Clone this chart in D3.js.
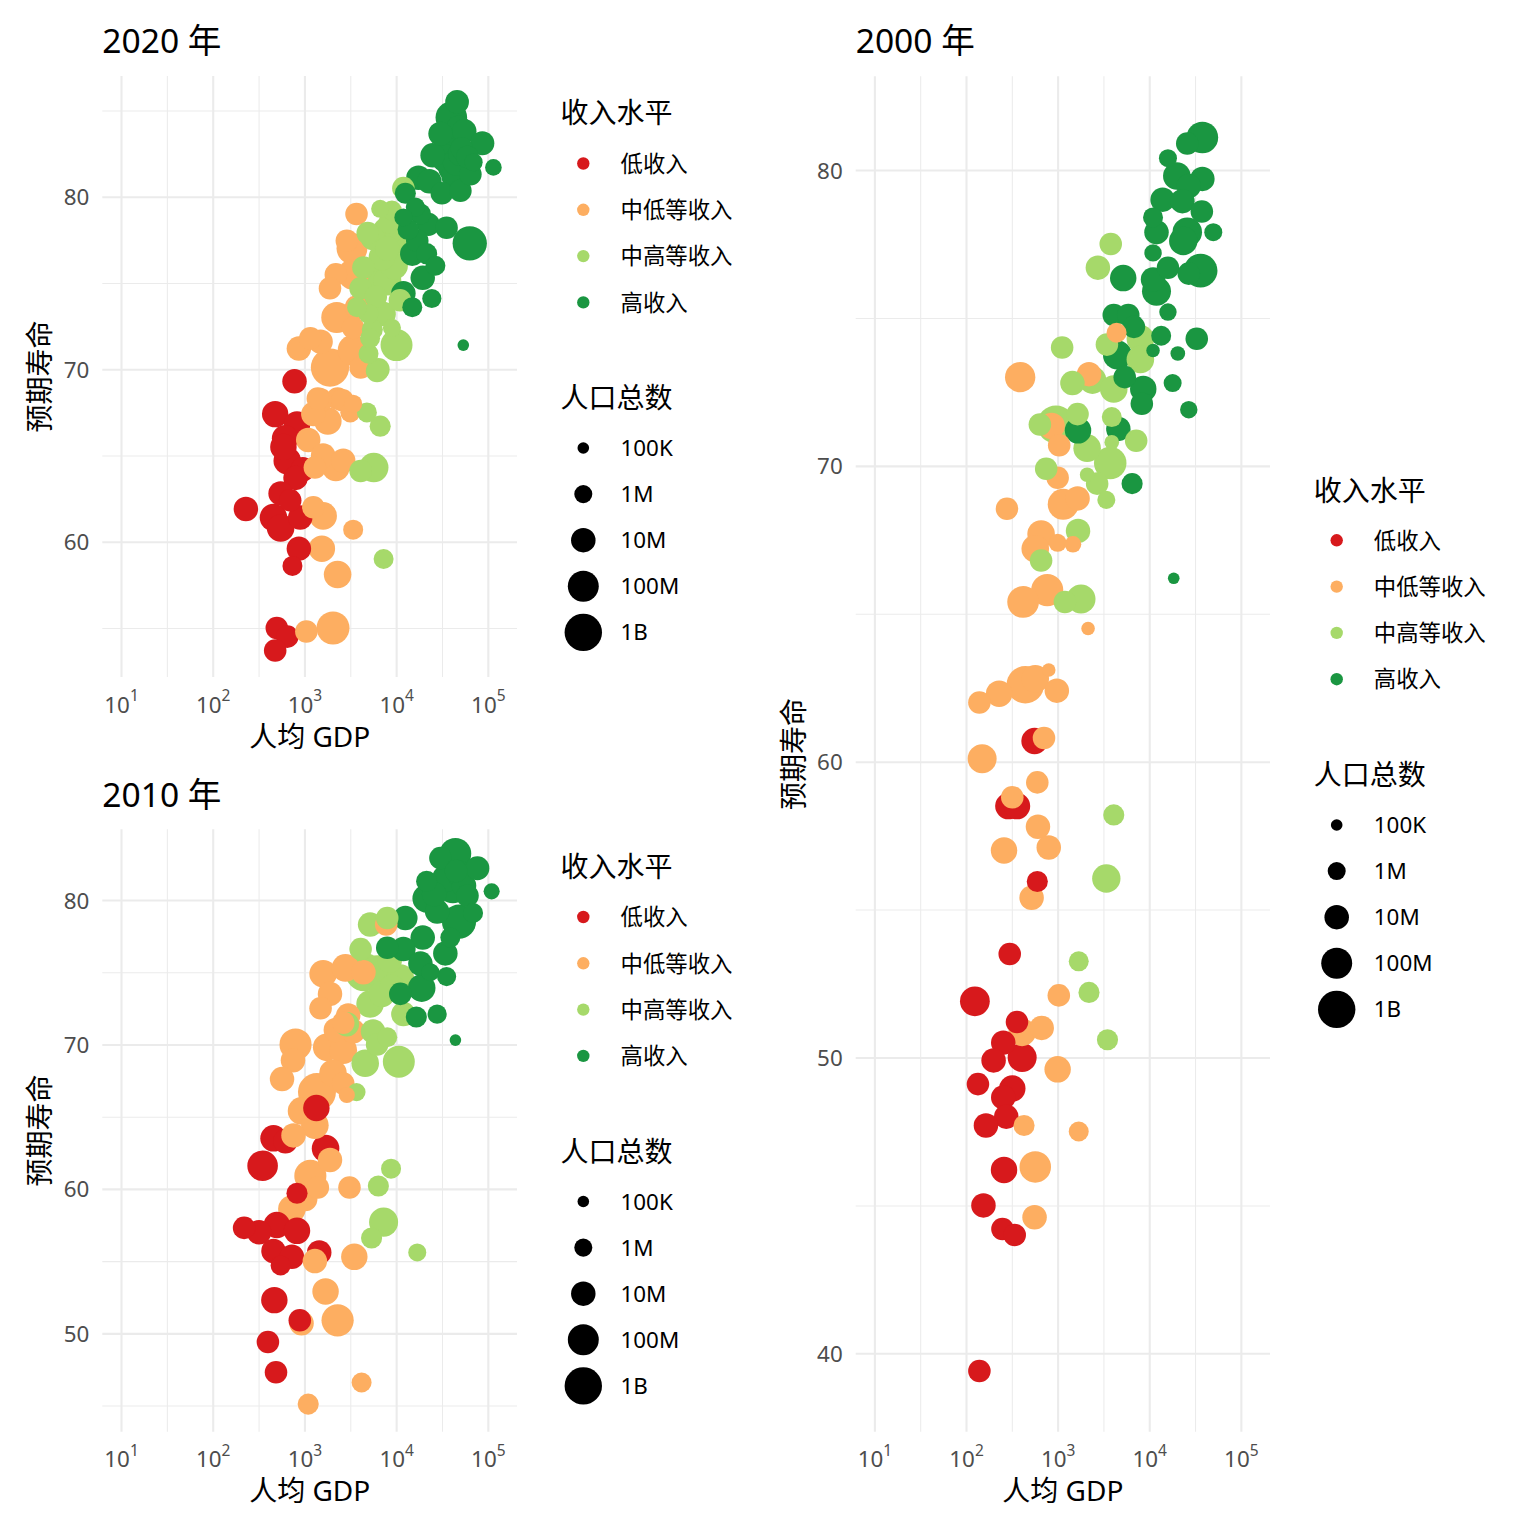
<!DOCTYPE html>
<html>
<head>
<meta charset="utf-8">
<script src="https://cdn.jsdelivr.net/npm/d3@7"></script>
<style>
  body { margin: 0; background: #ffffff; }
  svg { display: block; }
  text { font-family: "Noto Sans", "Noto Sans CJK SC", sans-serif; }
</style>
</head>
<body>
<svg id="chart" width="1536" height="1536"></svg>
<script>
// ---------------- categories / labels ----------------
const incomeLevels = ["低收入", "中低等收入", "中高等收入", "高收入"];
const incomeColors = ["#D7191C", "#FDAE61", "#A6D96A", "#1A9641"];
const popBreaks = [1e5, 1e6, 1e7, 1e8, 1e9];
const popLabels = ["100K", "1M", "10M", "100M", "1B"];
const xTickValues = [10, 100, 1000, 10000, 100000];
const xTickExponents = ["1", "2", "3", "4", "5"];
const panelTitles = ["2020 年", "2010 年", "2000 年"];

// ---------------- 2020 (GDP per capita US$, life expectancy, population in millions) ----------------
const gdpLow2020  = [780,480,830,615,590,650,960,800,550,230,460,550,900,870,740,500,650,480,700];
const lifeLow2020 = [69.3,67.4,66.8,66.0,65.5,64.7,64.2,63.7,62.8,61.9,61.4,60.8,61.4,59.6,58.6,55.0,54.5,53.7,62.4];
const popLow2020  = [10,20,20,20,20,30,10,10,10,10,30,30,10,10,2,5,5,5,5];

const gdpLm2020  = [3700,3300,2900,3400,2200,1900,3750,2250,3400,1160, 870,1500,3400,1900,4100,2300,1400,1490,2600,3400, 3160,1800,1250,1100,1600,2650,2200,1300,1250,1600, 3400,1550,2300,1050,2050];
const lifeLm2020 = [79.0,77.0,77.45,75.5,75.5,74.7,73.6,73.0,72.4,71.8, 71.2,71.6,71.1,70.1,70.1,68.3,68.3,68.2,68.2,68.0, 67.5,67.0,67.4,65.9,65.0,64.7,64.3,64.3,62.0,61.5, 60.7,59.6,58.1,54.8,55.0];
const popLm2020  = [5,100,5,100,5,5,10,100,5,5, 10,10,100,1380,5,5,5,10,5,1, 2,30,10,10,10,10,30,5,5,30, 2,20,30,5,206];

const gdpUm2020  = [12000,7300,5700,4100,4800,6700,6400,5000,5200,5000, 10100,9000,7300,11000,8000,4100,6800,8000,9000,6700, 5600,10400,4400,4900,3750,6200,7000,9500,8000,6000, 8500,5500];
const lifeUm2020 = [80.5,59.0,64.3,64.1,67.5,66.7,70.0,70.9,71.8,73.2, 71.4,72.4,73.2,74.0,75.1,74.7,75.3,78.0,79.2,79.3, 77.6,77.8,75.9,77.9,73.6,69.9,76.5,76.0,77.0,74.2, 78.5,72.3];
const popUm2020  = [5,2,59,5,2,3,5,2,2,2, 144,1,10,5,40,5,212,50,2,1, 10,1400,5,5,2,5,20,30,10,5, 5,3];

const gdpHigh2020  = [46200,40000,55500,87000,115000,30400,25000,17500,31500,50200, 41500,64500,39000,50000,18400,16200,22500,35500,63500,17000, 15000,21500,26800,19500,12000,15000,24500,54000,13500,12000, 45000,35000,52000,60000,23000,44000,48000,70000,12600];
const lifeHigh2020 = [85.5,84.6,83.8,83.1,81.7,83.65,82.4,81.1,80.2,80.35, 81.7,81.3,82.85,82.5,79.0,79.4,78.4,78.2,77.3,77.45, 76.7,76.7,76.0,75.3,74.4,73.6,74.1,71.4,78.1,78.8, 82.0,82.2,82.8,82.3,80.9,81.2,84.0,82.0,80.2];
const popHigh2020  = [7.5,126,9,8.6,0.6,9,10,10,5,5, 60,5,50,10,3,1.5,6,5,331,5, 10,3,2,10,10,2,1.5,0.1,3,1, 20,40,5,5,10,30,10,1,3];

// ---------------- 2010 ----------------
const gdpLow2010  = [1350,460,620,1700,350,830,220,320,500,830, 460,730,550,1450,470,890,400,490];
const lifeLow2010 = [65.6,63.5,63.3,62.8,61.6,59.7,57.3,57.0,57.5,57.1, 55.7,55.3,54.7,55.6,52.3,50.9,49.4,47.3];
const popLow2010  = [20,20,10,30,88,3,5,10,20,20, 10,10,2,10,20,5,5,5];

const gdpLm2010  = [7800,1600,2800,4400,1900,1500,2650,3400,800,1750, 2650,750,570,2050,1370,2650,2900,930,1300,760, 1900,1160,1400,1020,730,3100,1300,3500,1700,2300, 930,4200,1100,3000,2200];
const lifeLm2010 = [78.3,74.9,75.3,75.0,73.5,72.5,71.5,70.9,70.0,69.8, 69.6,68.9,67.6,68.0,66.7,67.3,66.5,65.4,64.4,63.7, 62.0,60.9,60.1,59.3,58.6,60.1,55.0,55.3,52.9,50.9, 50.7,46.6,45.1,72.0,71.0];
const popLm2010  = [5,30,30,10,10,5,5,10,150,30, 30,10,10,30,1230,5,0.5,30,30,10, 10,150,5,10,30,5,10,20,20,158, 10,2,3,10,10];

const gdpUm2010  = [5200,8000,4100,6200,11100,4500,5200,12000,2900,5600, 8000,6200,4600,10700,3700,8800,6400,7300,5400,17000, 7000,9000,8500];
const lifeUm2010 = [78.3,78.75,76.6,75.1,74.6,75.0,72.8,72.1,71.4,70.9, 70.5,70.0,68.7,68.8,66.7,61.4,60.2,57.7,56.6,55.6, 73.5,74.0,75.8];
const popUm2010  = [10,5,5,100,30,1340,30,10,10,10, 2,5,30,143,1,2,3,51,3,1, 20,10,10];

const gdpHigh2010  = [44300,30400,77000,110000,21500,21500,41500,28000,48500,69000, 12600,19500,39000,12000,34400,18400,23600,19000,35500,11100, 16600,28000,44300,50000,55000,35000,45000,60000,26000,8000];
const lifeHigh2010 = [83.2,82.9,82.2,80.6,81.3,80.1,80.8,79.2,78.5,79.1, 78.75,77.4,77.4,76.6,76.3,75.6,75.0,73.9,74.7,73.5, 71.9,72.1,70.3,81.8,81.0,81.5,82.0,80.3,80.4,76.7];
const popHigh2010  = [128,5,8,0.5,3,40,60,10,309,2, 10,10,2,10,10,10,1,30,1.5,5, 3,1.5,0.1,20,10,30,5,5,10,5];

// ---------------- 2000 ----------------
const gdpLow2000  = [560,290,360,600,300,125,360,255,200,410, 135,320,255,275,165,260,155,250,340,140];
const lifeLow2000 = [60.7,58.5,58.5,55.95,53.5,51.9,51.2,50.5,49.9,50.0, 49.1,48.95,48.65,48.0,47.7,46.2,45.0,44.2,44.0,39.4];
const popLow2000  = [20,20,20,3,5,66,5,10,10,50, 5,20,10,10,10,20,10,5,5,5];

const gdpLm2000  = [390,2200,4400,860,1040,1000,280,1150,1650,660, 1000,1470,570,420,770,2150,140,230,444,570, 800,980,710,150,600,320,610,260,800,520, 1030,410,670,1000,430,1700,570,560];
const lifeLm2000 = [73.0,73.1,74.5,71.35,70.7,69.6,68.55,68.7,68.9,67.7, 67.4,67.35,67.2,65.4,65.8,64.5,62.0,62.3,62.6,62.8, 63.1,62.4,60.8,60.1,59.3,58.8,57.8,57.0,57.1,55.4, 52.1,50.85,51.0,49.6,47.7,47.5,46.3,44.6];
const popLm2000  = [80,10,2,20,5,5,5,100,10,30, 1,0.6,30,130,150,0.2,5,20,1050,30, 0.2,10,5,50,5,5,10,20,10,10, 5,30,10,20,3,2,122,10];

const gdpUm2000  = [3800,2750,1120,8000,8000,3450,1450,2400,4100,960, 640,1650,3900,2100,3750,7200,750,2700,3400,2100, 3900,660,1670,1800,1200,4100,3400,1700,2200,3500];
const lifeUm2000 = [77.5,76.7,74.0,74.3,73.6,74.1,72.8,72.9,72.6,71.4, 71.4,71.75,71.65,70.6,70.1,70.85,69.9,69.4,68.85,69.7, 70.8,66.8,67.8,65.5,65.4,58.2,56.05,53.25,52.2,50.6];
const popUm2000  = [5,10,5,30,30,5,10,30,30,1260, 5,5,2,30,175,5,5,5,1,0.3, 0.3,5,10,50,5,3,40,2,3,3];

const gdpHigh2000  = [38000,26000,16000,20000,38000,27000,14000,23000,37500,11000, 12000,26000,23500,50000,11000,5200,16000,36300,27000,11000, 12000,16000,4100,5900,6800,13500,33000,11000,20500,4500, 5400,18000,8600,8300,27000,4600,1670,6500,18500];
const lifeHigh2000 = [81.1,80.9,80.4,79.8,79.7,79.46,79.0,78.95,78.6,78.4, 77.9,77.9,77.6,77.9,77.2,76.35,76.7,76.6,76.5,76.3, 75.9,75.2,75.1,75.1,74.7,74.4,74.3,73.9,73.8,73.75, 73.0,72.8,72.6,72.1,71.9,71.25,71.2,69.4,66.2];
const popHigh2000  = [127,5,1,30,10,10,10,10,5,2, 10,60,40,1,0.8,20,5,282,5,10, 50,0.8,5,5,5,2,5,0.2,0.3,50, 5,1,20,5,0.8,10,20,3,0.1];

// ---------------- assemble rows ----------------
function rows(sets) {
  const out = [];
  sets.forEach((s, k) => {
    s[0].forEach((g, i) => out.push({ gdp: g, life: s[1][i], pop: s[2][i] * 1e6, income: incomeLevels[k] }));
  });
  return out.sort((a, b) => b.pop - a.pop);
}
const data2020 = rows([[gdpLow2020, lifeLow2020, popLow2020], [gdpLm2020, lifeLm2020, popLm2020], [gdpUm2020, lifeUm2020, popUm2020], [gdpHigh2020, lifeHigh2020, popHigh2020]]);
const data2010 = rows([[gdpLow2010, lifeLow2010, popLow2010], [gdpLm2010, lifeLm2010, popLm2010], [gdpUm2010, lifeUm2010, popUm2010], [gdpHigh2010, lifeHigh2010, popHigh2010]]);
const data2000 = rows([[gdpLow2000, lifeLow2000, popLow2000], [gdpLm2000, lifeLm2000, popLm2000], [gdpUm2000, lifeUm2000, popUm2000], [gdpHigh2000, lifeHigh2000, popHigh2000]]);

// ---------------- scales shared ----------------
const svg = d3.select("#chart");
svg.append("rect").attr("width", 1536).attr("height", 1536).attr("fill", "#ffffff");

const gdpDomain = [Math.pow(10, 0.796), Math.pow(10, 5.318)];
const xMinor = [Math.pow(10, 1.5), Math.pow(10, 2.5), Math.pow(10, 3.5), Math.pow(10, 4.5)];
const sizeScale = d3.scaleLog().domain([1e5, 1e9]).range([5.8, 18.7]);
const colorScale = d3.scaleOrdinal().domain(incomeLevels).range(incomeColors);

const GRID = "#EBEBEB";
const TICK_FS = 22.4, TITLE_FS = 33.6, AXIS_FS = 28, LEG_TITLE_FS = 28, LEG_FS = 22.4;

function drawPanel(p) {
  const g = svg.append("g");
  const x = d3.scaleLog().domain(gdpDomain).range([p.left, p.right]);
  const y = d3.scaleLinear().domain(p.yDomain).range([p.bottom, p.top]);
  const h = p.bottom - p.top, w = p.right - p.left;

  // minor grid
  const gm = g.append("g");
  gm.append("g").attr("transform", `translate(0,${p.bottom})`)
    .call(d3.axisBottom(x).tickValues(xMinor).tickSize(-h).tickFormat(""));
  gm.append("g").attr("transform", `translate(${p.left},0)`)
    .call(d3.axisLeft(y).tickValues(p.yMinor).tickSize(-w).tickFormat(""));
  gm.selectAll(".domain").remove();
  gm.selectAll("line").attr("stroke", GRID).attr("stroke-width", 1.05);

  // major grid
  const gM = g.append("g");
  gM.append("g").attr("transform", `translate(0,${p.bottom})`)
    .call(d3.axisBottom(x).tickValues(xTickValues).tickSize(-h).tickFormat(""));
  gM.append("g").attr("transform", `translate(${p.left},0)`)
    .call(d3.axisLeft(y).tickValues(p.yTicks).tickSize(-w).tickFormat(""));
  gM.selectAll(".domain").remove();
  gM.selectAll("line").attr("stroke", GRID).attr("stroke-width", 2.1);

  // points
  g.append("g").selectAll("circle").data(p.data).join("circle")
    .attr("cx", d => x(d.gdp))
    .attr("cy", d => y(d.life))
    .attr("r", d => sizeScale(d.pop))
    .attr("fill", d => colorScale(d.income));

  // x tick labels (10^n)
  const ax = g.append("g").attr("transform", `translate(0,${p.bottom})`)
    .call(d3.axisBottom(x).tickValues(xTickValues).tickSize(0).tickFormat(""));
  ax.select(".domain").remove();
  ax.selectAll(".tick text").each(function(d, i) {
    const t = d3.select(this);
    t.attr("y", 35.5).attr("dy", null).attr("fill", "#4D4D4D")
      .attr("font-size", TICK_FS).attr("text-anchor", "middle")
      .style("font-family", '"Noto Sans", "Noto Sans CJK SC", sans-serif');
    t.text(null);
    t.append("tspan").text("10");
    t.append("tspan").text(xTickExponents[i]).attr("font-size", 15.5).attr("dy", -11.5);
  });

  // y tick labels
  const ay = g.append("g").attr("transform", `translate(${p.left},0)`)
    .call(d3.axisLeft(y).tickValues(p.yTicks).tickSize(0).tickPadding(13).tickFormat(d3.format("d")));
  ay.select(".domain").remove();
  ay.selectAll(".tick text").attr("fill", "#4D4D4D").attr("font-size", TICK_FS).attr("dy", "0.36em")
    .style("font-family", '"Noto Sans", "Noto Sans CJK SC", sans-serif');

  // titles
  g.append("text").attr("x", p.left).attr("y", p.titleY).attr("font-size", TITLE_FS).attr("fill", "#000")
    .text(p.title);
  g.append("text").attr("x", (p.left + p.right) / 2).attr("y", p.bottom + 69.5)
    .attr("text-anchor", "middle").attr("font-size", AXIS_FS).attr("fill", "#000").text("人均 GDP");
  g.append("text")
    .attr("transform", `translate(${p.yTitleX},${(p.top + p.bottom) / 2}) rotate(-90)`)
    .attr("text-anchor", "middle").attr("dy", "0.37em").attr("font-size", AXIS_FS).attr("fill", "#000")
    .text("预期寿命");

  // legends
  const L = p.legend;
  const lg = g.append("g");
  lg.append("text").attr("x", L.titleX).attr("y", L.cTitle + 0.37 * LEG_TITLE_FS)
    .attr("font-size", LEG_TITLE_FS).attr("fill", "#000").text("收入水平");
  incomeLevels.forEach((lvl, i) => {
    const cy = L.cItem0 + i * 46.3;
    lg.append("circle").attr("cx", L.dotX).attr("cy", cy).attr("r", 6.2).attr("fill", colorScale(lvl));
    lg.append("text").attr("x", L.labelX).attr("y", cy + 0.37 * LEG_FS)
      .attr("font-size", LEG_FS).attr("fill", "#000").text(lvl);
  });
  lg.append("text").attr("x", L.titleX).attr("y", L.pTitle + 0.37 * LEG_TITLE_FS)
    .attr("font-size", LEG_TITLE_FS).attr("fill", "#000").text("人口总数");
  popBreaks.forEach((b, i) => {
    const cy = L.pItem0 + i * 46.1;
    lg.append("circle").attr("cx", L.dotX).attr("cy", cy).attr("r", sizeScale(b)).attr("fill", "#000");
    lg.append("text").attr("x", L.labelX).attr("y", cy + 0.36 * LEG_FS)
      .attr("font-size", LEG_FS).attr("fill", "#000").text(popLabels[i]);
  });
}

drawPanel({
  title: panelTitles[0], data: data2020, left: 102.3, right: 517, top: 76, bottom: 677,
  yDomain: [52.16, 87.0], yTicks: [60, 70, 80], yMinor: [55, 65, 75, 85],
  titleY: 52.7, yTitleX: 40,
  legend: { titleX: 560.5, dotX: 583.3, labelX: 620.5, cTitle: 113, cItem0: 163.5, pTitle: 398, pItem0: 448 }
});
drawPanel({
  title: panelTitles[1], data: data2010, left: 102.3, right: 517, top: 829.3, bottom: 1431.7,
  yDomain: [43.19, 84.895], yTicks: [50, 60, 70, 80], yMinor: [45, 55, 65, 75],
  titleY: 806.7, yTitleX: 40,
  legend: { titleX: 560.5, dotX: 583.3, labelX: 620.5, cTitle: 866.5, cItem0: 917, pTitle: 1151.5, pItem0: 1201.5 }
});
drawPanel({
  title: panelTitles[2], data: data2000, left: 855.7, right: 1270, top: 76.3, bottom: 1431.7,
  yDomain: [37.35, 83.17], yTicks: [40, 50, 60, 70, 80], yMinor: [45, 55, 65, 75],
  titleY: 52.7, yTitleX: 793.5,
  legend: { titleX: 1313.8, dotX: 1336.7, labelX: 1373.8, cTitle: 490.5, cItem0: 540.3, pTitle: 774.5, pItem0: 825 }
});
</script>
</body>
</html>
